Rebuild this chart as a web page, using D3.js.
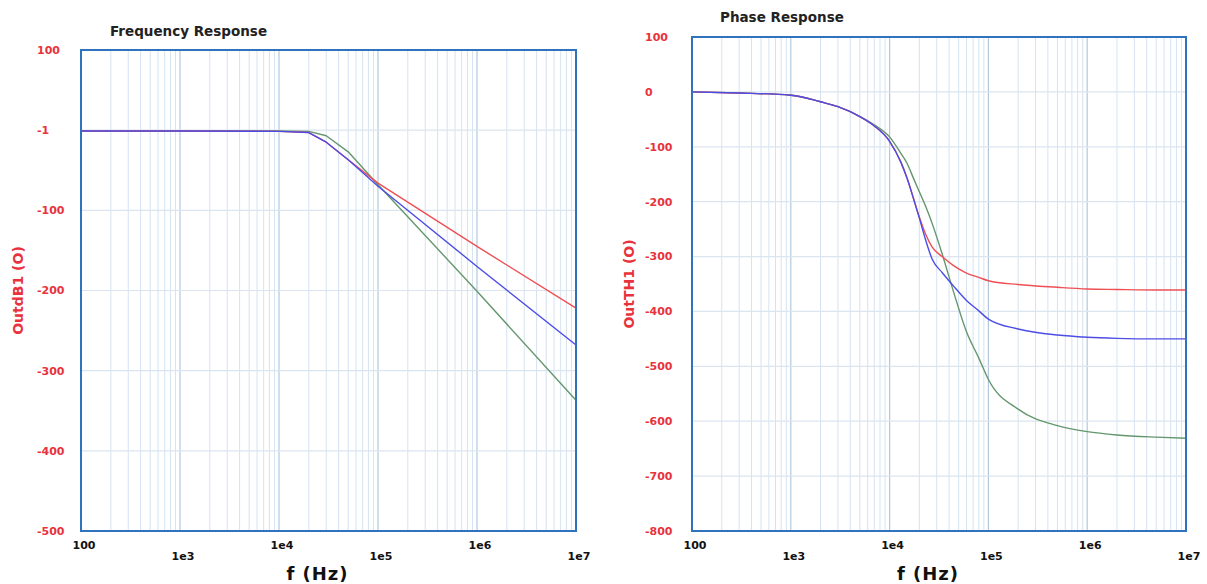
<!DOCTYPE html>
<html>
<head>
<meta charset="utf-8">
<script src="https://cdn.jsdelivr.net/npm/d3@7"></script>
<style>
  body { margin: 0; background: #fff; }
  svg { display: block; font-family: "DejaVu Sans", Verdana, sans-serif; }
</style>
</head>
<body>
<svg id="chart" width="1207" height="584"></svg>
<script>
// x axis (shared)
var xTicks = [100, 1e3, 1e4, 1e5, 1e6, 1e7];
var xTickLabels = ["100", "1e3", "1e4", "1e5", "1e6", "1e7"];

// frequency response (left)
var magTicks = [100, 0, -100, -200, -300, -400, -500];
var magTickLabels = ["100", "-1", "-100", "-200", "-300", "-400", "-500"];
var magFreq  = [100, 1e3, 1e4, 2e4, 3e4, 5e4, 1e5, 1e6, 1e7];
var magRed   = [-1, -1, -1.5, -3, -15, -37, -66, -145, -222];
var magBlue  = [-1, -1, -1.5, -3, -15, -37, -70, -170, -268];
var magGreen = [-1, -1, -1, -1.5, -7, -27, -68, -201, -337];

// phase response (right)
var phaseTicks = [100, 0, -100, -200, -300, -400, -500, -600, -700, -800];
var phaseFreq  = [100, 300, 1e3, 2e3, 3e3, 5e3, 7e3, 1e4, 1.3e4, 1.5e4, 1.75e4, 2e4, 2.3e4, 2.7e4, 3.4e4, 4.4e4, 6e4, 8e4, 1e5, 2e5, 5e5, 1e6, 2e6, 5e6, 1e7];
var phaseRed   = [0, -2, -6, -18, -27, -45, -62, -90, -128, -157, -195, -228, -258, -283, -300, -316, -330, -338, -344, -351, -356, -359, -360, -361, -361];
var phaseBlue  = [0, -2, -6, -18, -27, -45, -62, -90, -128, -157, -195, -230, -268, -305, -329, -353, -380, -399, -414, -432, -443, -447, -449, -450, -450];
var phaseGreen = [0, -2, -6, -18, -27, -45, -60, -82, -112, -130, -158, -182, -207, -240, -295, -362, -437, -485, -524, -578, -608, -619, -625, -629, -631];

var colors = { red: "#ee4f55", blue: "#4d4de6", green: "#64976c" };

var svg = d3.select("#chart");

function drawPanel(opt) {
  var x = d3.scaleLog().domain([100, 1e7]).range([opt.left, opt.right]);
  var y = d3.scaleLinear().domain([opt.ticks[opt.ticks.length - 1], opt.ticks[0]]).range([opt.bottom, opt.top]);
  var g = svg.append("g");

  // minor vertical grid
  var minor = [];
  for (var e = 2; e < 7; e++) {
    for (var m = 2; m < 10; m++) minor.push(m * Math.pow(10, e));
  }
  g.selectAll(".vminor").data(minor).enter().append("line")
    .attr("x1", function (d) { return x(d); }).attr("x2", function (d) { return x(d); })
    .attr("y1", opt.top).attr("y2", opt.bottom)
    .attr("stroke", "#d5e3f1").attr("stroke-width", 1);
  g.selectAll(".vmajor").data(xTicks.slice(1, -1)).enter().append("line")
    .attr("x1", function (d) { return x(d); }).attr("x2", function (d) { return x(d); })
    .attr("y1", opt.top).attr("y2", opt.bottom)
    .attr("stroke", "#b3c8de").attr("stroke-width", 1.2);
  g.selectAll(".hgrid").data(opt.ticks.slice(1, -1)).enter().append("line")
    .attr("x1", opt.left).attr("x2", opt.right)
    .attr("y1", function (d) { return y(d); }).attr("y2", function (d) { return y(d); })
    .attr("stroke", "#dbe5ef").attr("stroke-width", 1.2);

  // series
  var line = d3.line()
    .x(function (d) { return x(d[0]); })
    .y(function (d) { return y(d[1]); })
    .curve(opt.curve);
  opt.series.forEach(function (s) {
    g.append("path")
      .datum(opt.freq.map(function (f, i) { return [f, s.values[i]]; }))
      .attr("fill", "none")
      .attr("stroke", s.color)
      .attr("stroke-width", 1.4)
      .attr("stroke-linejoin", "round")
      .attr("d", line);
  });

  // frame
  g.append("rect")
    .attr("x", opt.left).attr("y", opt.top)
    .attr("width", opt.right - opt.left).attr("height", opt.bottom - opt.top)
    .attr("fill", "none").attr("stroke", "#2f72bd").attr("stroke-width", 2);

  // y tick labels
  g.selectAll(".ylab").data(opt.ticks).enter().append("text")
    .attr("x", opt.labelX)
    .attr("y", function (d) { return y(d); })
    .attr("dy", "0.35em")
    .attr("fill", "#e8333d")
    .attr("font-size", 11).attr("font-weight", "bold")
    .text(function (d, i) { return opt.tickLabels[i]; });

  // x tick labels, staggered
  g.selectAll(".xlab").data(xTicks).enter().append("text")
    .attr("x", function (d) { return x(d) + 3; })
    .attr("y", function (d, i) { return opt.bottom + (i % 2 ? 29 : 18); })
    .attr("text-anchor", "middle")
    .attr("fill", "#111")
    .attr("font-size", 11).attr("font-weight", "bold")
    .text(function (d, i) { return xTickLabels[i]; });

  // titles
  g.append("text")
    .attr("x", (opt.left + opt.right) / 2 - 11).attr("y", 580)
    .attr("text-anchor", "middle")
    .attr("font-size", 18).attr("font-weight", "bold").attr("fill", "#111")
    .attr("letter-spacing", 1)
    .text("f (Hz)");
  g.append("text")
    .attr("transform", "translate(" + opt.yTitleX + "," + (opt.top + opt.bottom) / 2 + ") rotate(-90)")
    .attr("text-anchor", "middle")
    .attr("font-size", 14).attr("font-weight", "bold").attr("fill", "#e8333d")
    .text(opt.yTitle);
  g.append("text")
    .attr("x", opt.titleX).attr("y", opt.titleY)
    .attr("font-size", 13.5).attr("font-weight", "bold").attr("fill", "#222")
    .text(opt.title);
}

drawPanel({
  left: 81, right: 576, top: 50, bottom: 531,
  ticks: magTicks, tickLabels: magTickLabels,
  freq: magFreq, curve: d3.curveLinear,
  series: [
    { values: magGreen, color: colors.green },
    { values: magRed, color: colors.red },
    { values: magBlue, color: colors.blue }
  ],
  labelX: 37, yTitleX: 23, yTitle: "OutdB1 (O)",
  title: "Frequency Response", titleX: 110, titleY: 36
});

drawPanel({
  left: 692, right: 1186, top: 37, bottom: 531,
  ticks: phaseTicks, tickLabels: phaseTicks.map(String),
  freq: phaseFreq, curve: d3.curveMonotoneX,
  series: [
    { values: phaseGreen, color: colors.green },
    { values: phaseRed, color: colors.red },
    { values: phaseBlue, color: colors.blue }
  ],
  labelX: 645, yTitleX: 634, yTitle: "OutTH1 (O)",
  title: "Phase Response", titleX: 720, titleY: 22
});
</script>
</body>
</html>
